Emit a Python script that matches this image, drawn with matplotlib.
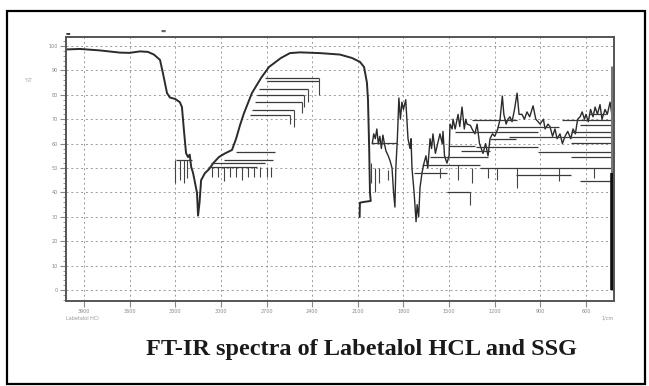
import matplotlib
matplotlib.use("Agg")
import matplotlib.pyplot as plt
from matplotlib.ticker import MultipleLocator, FixedLocator
import matplotlib.patches as patches

# ---------------- data (wavenumber cm-1, %T) ----------------
main_wn = [4018, 3926, 3795, 3663, 3600, 3532, 3480, 3440, 3400, 3381, 3354, 3335,
           3300, 3270, 3256, 3243, 3229, 3216, 3205, 3195, 3183, 3170, 3157, 3150,
           3140, 3130, 3105, 3078, 3050, 3013, 2973, 2927, 2900, 2874, 2848, 2796,
           2736, 2684, 2605, 2546, 2480, 2349, 2217, 2138, 2086, 2059, 2040, 2033,
           2025, 2020, 2015, 2060, 2086, 2088]
main_t = [98.6, 98.8, 98.2, 97.3, 97.2, 97.8, 97.6, 96.5, 94.3, 88.9, 80.7, 78.9,
          78.3, 77.0, 75.0, 65.6, 56.1, 54.5, 55.5, 50.4, 48.0, 44.0, 39.8, 30.5,
          36.0, 45.0, 47.9, 49.5, 52.0, 54.5, 56.0, 57.4, 62.0, 67.6, 72.5, 80.7,
          86.9, 91.4, 95.1, 97.1, 97.4, 97.1, 96.5, 95.1, 93.5, 91.4, 85.0, 77.9,
          57.4, 40.0, 36.5, 36.1, 35.8, 30.0]

fp_wn = [2005, 1995, 1985, 1975, 1965, 1955, 1945, 1935, 1925, 1915, 1900, 1888,
         1875, 1865, 1856, 1850, 1840, 1830, 1820, 1810, 1800, 1785, 1770, 1757,
         1750, 1744, 1730, 1717, 1710, 1700, 1691, 1678, 1665, 1652, 1640, 1625,
         1615, 1606, 1590, 1575, 1560, 1545, 1540, 1530, 1514, 1500, 1494, 1480,
         1474, 1460, 1441, 1430, 1415, 1400, 1390, 1382, 1360, 1349, 1330, 1316,
         1300, 1277, 1260, 1244, 1231, 1215, 1200, 1180, 1165, 1150, 1140, 1125,
         1113, 1100, 1086, 1070, 1053, 1040, 1021, 1005, 988, 970, 948, 930,
         915, 902, 880, 869, 850, 837, 820, 804, 790, 771, 755, 738,
         720, 700, 685, 670, 655, 639, 625, 610, 600, 585, 570, 554,
         540, 525, 508, 495, 475, 460, 442, 430, 422]
fp_t = [60, 64, 62, 66, 60, 63, 58, 63.5, 60, 57, 55, 53,
        50, 40, 34, 50, 62, 78.7, 70, 77, 74, 78, 62, 58,
        62, 50, 40, 28, 35, 30, 42, 48, 52, 55, 50, 62,
        58, 64, 56, 60, 64, 60, 65, 55, 52, 55, 68, 66,
        70, 66, 72, 67, 75, 66, 70, 68, 67.5, 66, 64, 68,
        60, 56, 60, 55, 62, 64, 63, 66, 70, 79.5, 72, 68,
        70, 71, 69, 74, 80.7, 72, 72, 70, 73, 71, 75.5, 70,
        69, 68, 70, 66, 68, 67, 63, 66, 62, 64, 60, 63,
        65, 62, 66, 64, 70, 71, 73, 70, 72, 69, 74, 71,
        75, 72, 76, 70, 74, 72, 77, 72, 76]

# horizontal ledges: level, start, end (wavenumber)
ledge_t = [86.9, 85.6, 82.4, 79.9, 77.0, 73.8, 71.7,
           56.5, 53.3, 52.0, 50.4, 53.3,
           60.2, 50.0, 51.2, 54.5, 56.5, 58.6, 60.2, 62.7, 64.7, 66.8, 69.7,
           54.5, 40.2, 48.0, 47.0, 44.5,
           69.7, 67.6, 64.7, 72.0, 62.0, 59.0, 57.0]
ledge_a = [2710, 2697, 2750, 2763, 2776, 2796, 2809,
           2901, 2980, 3065, 3085, 3295,
           2007, 1297, 1678, 1625, 915, 1323, 698, 1106, 1461, 1185, 1349,
           698, 1514, 1730, 1060, 640,
           760, 640, 700, 580, 1230, 1500, 1420]
ledge_b = [2355, 2355, 2428, 2454, 2467, 2520, 2546,
           2644, 2658, 2710, 2763, 3190,
           1843, 425, 1297, 1244, 430, 915, 430, 430, 915, 777, 1053,
           430, 1362, 1514, 700, 430,
           430, 430, 430, 470, 1060, 1330, 1230]

# short vertical marks: wavenumber, top, bottom
vm_wn = [2355, 2428, 2454, 2467, 2520, 2546, 3300, 3270, 3245, 3220,
         3060, 3020, 2980, 2940, 2900, 2860, 2820, 2780, 2740, 2700, 2670,
         2015, 1990, 1960, 1900, 1362, 1349, 1053, 777, 545, 1560, 1440, 1244, 1185]
vm_top = [86.9, 82.4, 79.9, 77.0, 73.8, 71.7, 53.3, 53.3, 53.3, 53.3,
          50.4, 50.4, 50.4, 50.4, 50.4, 50.4, 50.4, 50.4, 50.4, 50.4, 50.4,
          52.0, 50.0, 50.0, 49.0, 40.2, 50.0, 50.0, 50.0, 50.0, 50.0, 51.2, 50.0, 50.0]
vm_bot = [80.0, 77.0, 75.0, 72.5, 66.8, 68.0, 43.8, 45.0, 44.0, 46.0,
          46.3, 46.3, 44.5, 46.3, 46.3, 45.0, 46.3, 46.3, 46.3, 46.3, 46.3,
          44.0, 40.0, 44.0, 45.0, 35.0, 44.0, 42.0, 44.5, 46.0, 46.0, 45.0, 46.0, 45.0]

edge_wn = 426
edge_span = [0.0, 92.0]
edge_dark = [0.0, 48.0]

x_ticks = [3900, 3600, 3300, 3000, 2700, 2400, 2100, 1800, 1500, 1200, 900, 600]
y_ticks = [0, 10, 20, 30, 40, 50, 60, 70, 80, 90, 100]

title = "FT-IR spectra of Labetalol HCL and SSG"

# ---------------- figure ----------------
fig = plt.figure(figsize=(6.49, 3.86), dpi=100)
fig.patch.set_facecolor("white")

ax = fig.add_axes([66 / 649, 1 - 301 / 386, (614 - 66) / 649, (301 - 37) / 386])
ax.set_xlim(4018, 416)
ax.set_ylim(-4.5, 103.7)

lc = "#2b2b2b"
ax.plot(main_wn, main_t, color=lc, lw=1.4, solid_joinstyle="round")
ax.plot(fp_wn, fp_t, color=lc, lw=1.0)
ax.hlines(ledge_t, ledge_a, ledge_b, color="#3a3a3a", lw=0.9)
ax.vlines(vm_wn, vm_bot, vm_top, color="#444444", lw=0.8)
ax.vlines([edge_wn], [edge_span[0]], [edge_span[1]], color="#777777", lw=2.2)
ax.vlines([edge_wn], [edge_dark[0]], [edge_dark[1]], color="#111111", lw=2.6)

# grid
ax.xaxis.set_major_locator(FixedLocator(x_ticks))
ax.yaxis.set_major_locator(FixedLocator(y_ticks))
ax.yaxis.set_minor_locator(MultipleLocator(2))
ax.grid(True, which="major", color="#9a9a9a", lw=0.7, linestyle=(0, (2, 3)))

for s in ax.spines.values():
    s.set_color("#555555")
    s.set_linewidth(1.4)

ax.tick_params(axis="both", which="major", direction="out", length=4, width=0.8,
               colors="#888888", labelsize=3.5, pad=2)
ax.tick_params(axis="y", which="minor", direction="out", length=2.5, width=0.6,
               colors="#888888")
ax.set_xticklabels([str(v) for v in x_ticks])
ax.set_yticklabels([f"{v}" for v in y_ticks])

ax.text(-0.075, 0.83, "%T", transform=ax.transAxes, fontsize=3.5, color="#999999")
ax.text(0.0, -0.055, "Labetalol HCl", transform=ax.transAxes, fontsize=3.5,
        color="#999999", va="top")
ax.text(1.0, -0.055, "1/cm", transform=ax.transAxes, fontsize=3.5,
        color="#999999", va="top", ha="right")

# small marks above the plot
fig.text(68 / 649, 1 - 33 / 386, "\u25ac", fontsize=3.5, color="#333333", ha="center", va="center")
fig.text(163 / 649, 1 - 31 / 386, "\u25ac", fontsize=4, color="#666666", ha="center", va="center")

fig.text(361 / 649, 1 - 350 / 386, title, fontsize=17.5, fontweight="bold",
         family="Liberation Serif", ha="center", va="center", color="#1a1a1a")

# outer border
fig.patches.append(patches.Rectangle((7 / 649, 2 / 386), (645 - 7) / 649, (375 - 2) / 386,
                                     transform=fig.transFigure, fill=False,
                                     edgecolor="black", lw=1.6))

fig.savefig("out.png", dpi=100)
